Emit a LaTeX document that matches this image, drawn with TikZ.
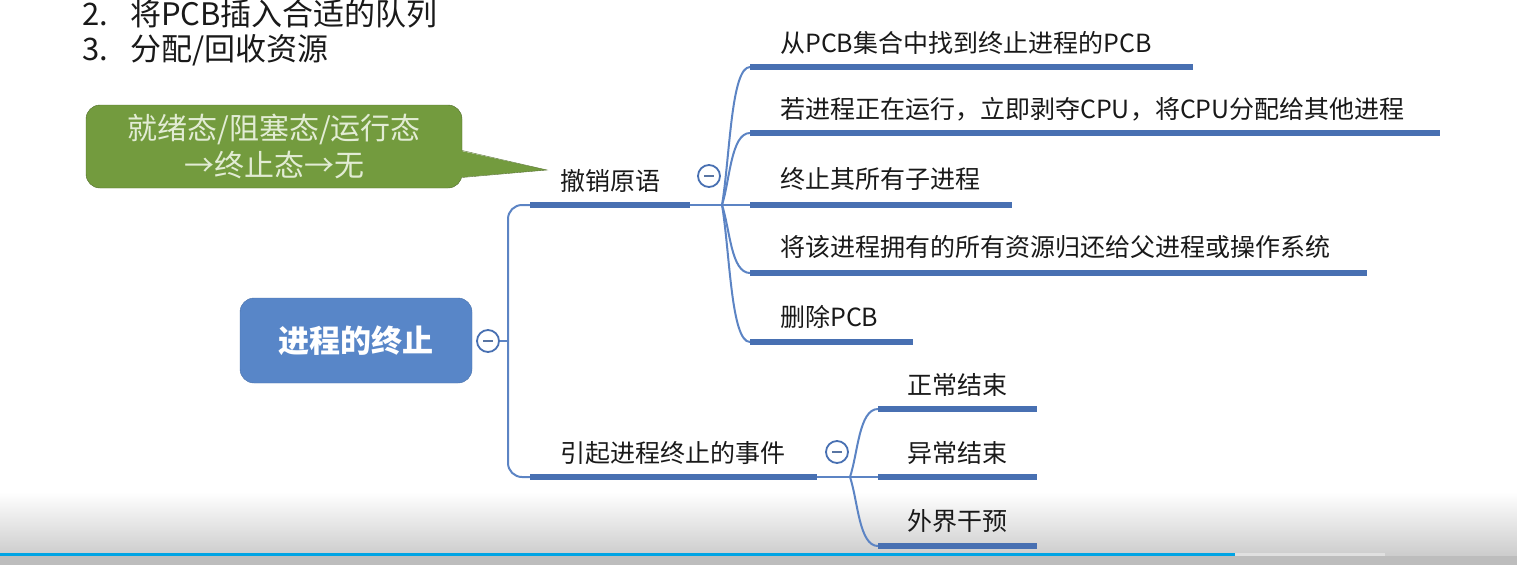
\documentclass[tikz,border=0pt]{standalone}
\usepackage{fontspec}
\setmainfont{Noto Sans CJK SC}
\usepackage{xcolor}
\usepackage{tikz}
\usetikzlibrary{positioning, calc}
\definecolor{topicblue}{RGB}{88,134,200}
\definecolor{barblue}{RGB}{72,112,178}
\definecolor{linkblue}{RGB}{92,132,196}
\definecolor{notegreen}{RGB}{115,155,62}
\definecolor{notetext}{RGB}{226,236,212}
\definecolor{progress}{RGB}{0,164,228}
\tikzstyle{topic} = [rectangle, rounded corners=14pt, minimum width=232pt, minimum height=85pt, text centered, draw=topicblue!85!black, fill=topicblue, text=white, font=\fontsize{31}{36}\selectfont\bfseries]
\tikzstyle{note} = [rectangle, rounded corners=14pt, minimum width=376pt, minimum height=83pt, align=center, draw=notegreen!70!black, fill=notegreen, text=notetext, font=\fontsize{30}{37}\selectfont]
\tikzstyle{leaf} = [anchor=west, inner sep=0pt, text=black!90, font=\fontsize{25}{30}\selectfont]
\tikzstyle{item} = [anchor=west, inner sep=0pt, text=black!90, font=\fontsize{31}{36}\selectfont]
\tikzstyle{fold} = [circle, minimum size=22pt, inner sep=0pt, draw=barblue, line width=1.8pt, fill=white, path picture={\draw[line width=2pt, barblue!70!gray] ($(path picture bounding box.center)-(5pt,0)$) -- ++(10pt,0);}]
\tikzstyle{link} = [line width=2pt, draw=linkblue]
\tikzstyle{bar} = [line width=5.5pt, draw=barblue]

\begin{document}
\begin{tikzpicture}[x=1pt, y=-1pt]
\useasboundingbox (0,0) rectangle (1517,565);
\clip (0,0) rectangle (1517,565);

% screen bottom
\shade[top color=white, bottom color=black!20] (0,492) rectangle (1517,556);
\fill[black!26] (0,556) rectangle (1517,565);
\draw[line width=3pt, progress] (0,554) -- (1235,554);
\draw[line width=3pt, black!12] (1235,554) -- (1385,554);

% list above
\node (item2) [item] at (82,14) {\makebox[48pt][l]{2.}将PCB插入合适的队列};
\node (item3) [item] at (82,50) {\makebox[48pt][l]{3.}分配/回收资源};

% callout
\node (note) [note] at (274,146.5) {就绪态/阻塞态/运行态\\→终止态→无};
\coordinate (tip) at (547,170);
\fill[notegreen] ($(note.east)+(-3,4)$) -- (tip) -- ($(note.east)+(-3,31)$) -- cycle;
\draw[notegreen!70!black] ($(note.east)+(0,4)$) -- (tip) -- ($(note.east)+(0,31)$);

% main topic
\node (root) [topic] at (356,340.5) {进程的终止};
\node (f0) [fold] at (488,341) {};
\coordinate (trunk) at (508,341);

% first level
\coordinate (s1s) at (530,205);
\coordinate (s1e) at (690,205);
\coordinate (s2s) at (530,477);
\coordinate (s2e) at (817,477);
\node (s1) [leaf] at (560,181) {撤销原语};
\node (s2) [leaf] at (560,453) {引起进程终止的事件};
\node (f1) [fold] at (709,176) {};
\node (f2) [fold] at (837,452) {};
\coordinate (fork1) at (722,205);
\coordinate (fork2) at (850,477);

% children of s1
\coordinate (a1s) at (750,67);   \coordinate (a1e) at (1193,67);
\coordinate (a2s) at (750,133);  \coordinate (a2e) at (1440,133);
\coordinate (a3s) at (750,205);  \coordinate (a3e) at (1012,205);
\coordinate (a4s) at (750,273);  \coordinate (a4e) at (1367,273);
\coordinate (a5s) at (750,342);  \coordinate (a5e) at (913,342);
\node (a1) [leaf] at (780,43) {从PCB集合中找到终止进程的PCB};
\node (a2) [leaf] at (780,109) {若进程正在运行，立即剥夺CPU，将CPU分配给其他进程};
\node (a3) [leaf] at (780,179) {终止其所有子进程};
\node (a4) [leaf] at (780,247) {将该进程拥有的所有资源归还给父进程或操作系统};
\node (a5) [leaf] at (780,317) {删除PCB};

% children of s2
\coordinate (b1s) at (878,409);  \coordinate (b1e) at (1037,409);
\coordinate (b2s) at (878,477);  \coordinate (b2e) at (1037,477);
\coordinate (b3s) at (878,546);  \coordinate (b3e) at (1037,546);
\node (b1) [leaf] at (907,385) {正常结束};
\node (b2) [leaf] at (907,453) {异常结束};
\node (b3) [leaf] at (907,521) {外界干预};

% links
\draw [link] (f0) -- (trunk);
\draw [link, rounded corners=14pt] (trunk) |- (s1s);
\draw [link, rounded corners=14pt] (trunk) |- (s2s);
\draw [link] (s1e) -- (a3s);
\draw [link] (fork1) .. controls +(8,-48) and +(-19,0) .. (a1s);
\draw [link] (fork1) .. controls +(8,-25) and +(-19,0) .. (a2s);
\draw [link] (fork1) .. controls +(8,24) and +(-19,0) .. (a4s);
\draw [link] (fork1) .. controls +(8,48) and +(-19,0) .. (a5s);
\draw [link] (s2e) -- (b2s);
\draw [link] (fork2) .. controls +(8,-24) and +(-19,0) .. (b1s);
\draw [link] (fork2) .. controls +(8,24) and +(-19,0) .. (b3s);

% bars
\draw [bar] (s1s) -- (s1e);
\draw [bar] (s2s) -- (s2e);
\draw [bar] (a1s) -- (a1e);
\draw [bar] (a2s) -- (a2e);
\draw [bar] (a3s) -- (a3e);
\draw [bar] (a4s) -- (a4e);
\draw [bar] (a5s) -- (a5e);
\draw [bar] (b1s) -- (b1e);
\draw [bar] (b2s) -- (b2e);
\draw [bar] (b3s) -- (b3e);

\end{tikzpicture}
\end{document}
